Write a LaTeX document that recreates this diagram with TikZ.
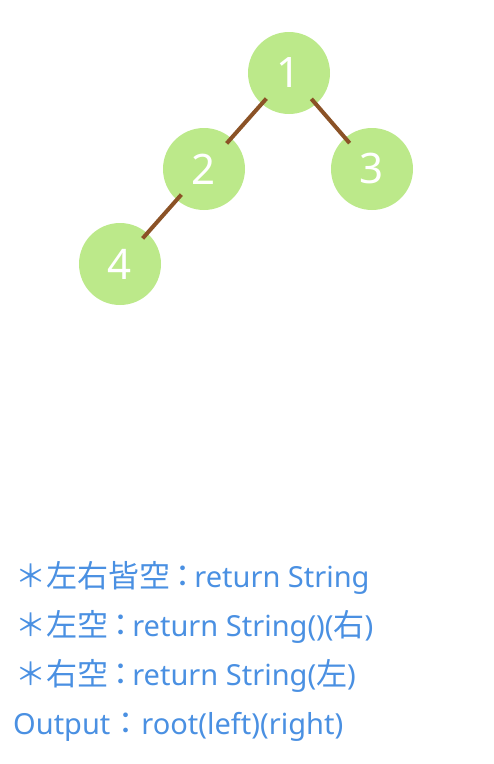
\documentclass[tikz,border=0pt]{standalone}
\usepackage{fontspec}
\setmainfont{Noto Sans}
\newfontfamily\cjk[Scale=1.07]{Noto Sans CJK JP}
\usetikzlibrary{positioning}
\definecolor{leafgreen}{HTML}{BCE98A}
\definecolor{branchbrown}{HTML}{8B5226}
\definecolor{noteblue}{HTML}{4A90E2}
\newcommand{\sqcolon}{\hspace{-3pt}{\cjk ：}\hspace{-4pt}}
\begin{document}
\begin{tikzpicture}[x=1pt, y=-1pt]
		\useasboundingbox (0,0) rectangle (494,764);
		\tikzset{
			treenode/.style={circle, fill=leafgreen, minimum size=82pt, inner sep=0,
				text=white, font=\fontsize{42}{42}\selectfont},
			branch/.style={draw=branchbrown, line width=4pt, shorten <=-7pt, shorten >=-7pt},
			note/.style={anchor=base west, text=noteblue, inner sep=0,
				font=\fontsize{29}{29}\selectfont}
		}
		\node[treenode] (n1) at (289,73) {1};
		\node[treenode, on grid, below left = 96pt and 85pt of n1] (n2) {2};
		\node[treenode, on grid, below right = 96pt and 83pt of n1] (n3) {3};
		\node[treenode, on grid, below left = 95pt and 84pt of n2] (n4) {4};
		
		\draw[branch] (n1) -- (n2);
		\draw[branch] (n1) -- (n3);
		\draw[branch] (n2) -- (n4);
		
		% notes
		\node[note] (l1) at (15,587) {{\cjk ＊左右皆空}\sqcolon return String};
		\node[note] (l2) at (15,636) {{\cjk ＊左空}\sqcolon return String()({\cjk 右})};
		\node[note] (l3) at (15,685) {{\cjk ＊右空}\sqcolon return String({\cjk 左})};
		\node[note] (l4) at (13,734) {Output{\cjk ：}root(left)(right)};
	\end{tikzpicture}
\end{document}
